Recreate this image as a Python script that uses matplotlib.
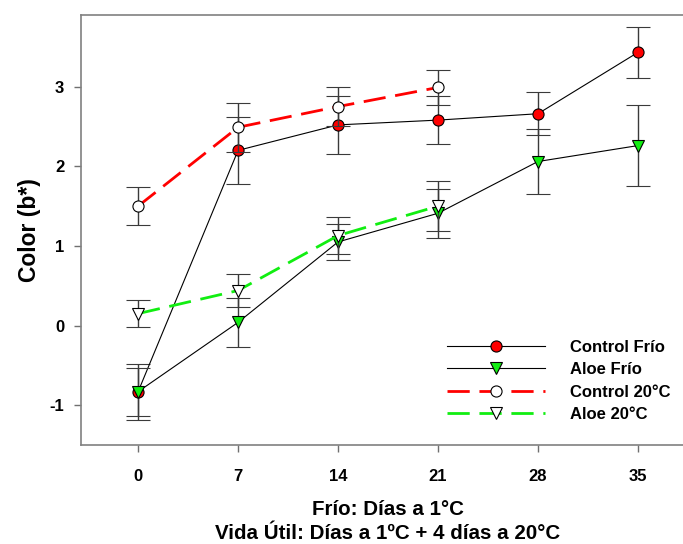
import numpy as np
import matplotlib
matplotlib.use("Agg")
import matplotlib.pyplot as plt
from matplotlib.lines import Line2D

plt.rcParams['font.family'] = ['Liberation Sans', 'DejaVu Sans']

dias = [0, 7, 14, 21, 28, 35]
dias_20 = [0, 7, 14, 21]

control_frio = [-0.83, 2.20, 2.52, 2.58, 2.66, 3.43]
control_frio_err = [0.35, 0.42, 0.36, 0.30, 0.27, 0.32]
aloe_frio = [-0.83, 0.04, 1.05, 1.41, 2.06, 2.26]
aloe_frio_err = [0.30, 0.31, 0.23, 0.31, 0.41, 0.51]
control_20 = [1.50, 2.49, 2.75, 2.99]
control_20_err = [0.24, 0.31, 0.24, 0.22]
aloe_20 = [0.15, 0.44, 1.13, 1.50]
aloe_20_err = [0.165, 0.21, 0.23, 0.31]

x_ticks = [0, 7, 14, 21, 28, 35]
y_ticks = [-1, 0, 1, 2, 3]

W, H = 683, 544
fig = plt.figure(figsize=(W / 100, H / 100), dpi=100)
ax = fig.add_axes([81 / W, 1 - 445 / H, (695 - 81) / W, (445 - 15) / H])

err_kw = dict(ecolor='#3a3a3a', elinewidth=1.0, capsize=8.5, capthick=1.0)
verde = '#11ee11'

series = [
    (dias, control_frio, control_frio_err, 'black', 0.8, None, 'o', '#ff0000', 'Control Frío'),
    (dias, aloe_frio, aloe_frio_err, 'black', 0.8, None, 'v', verde, 'Aloe Frío'),
    (dias_20, control_20, control_20_err, '#ff0000', 2, (8, 3.5), 'o', 'white', 'Control 20°C'),
    (dias_20, aloe_20, aloe_20_err, verde, 2, (8, 3.5), 'v', 'white', 'Aloe 20°C'),
]

handles = []
for i, (x, y, e, col, lw, dash, mk, fc, lab) in enumerate(series):
    ms = 8 if mk == 'o' else 8.5
    style = dict(color=col, lw=lw, marker=mk, ms=ms, mfc=fc, mec='black', mew=0.8)
    if dash:
        style['dashes'] = dash
    ax.errorbar(x, y, yerr=e, zorder=3 + i, **style, **err_kw)
    handles.append(Line2D([], [], label=lab, **style))

ax.set_xlim(-4, 39)
ax.set_ylim(-1.5, 3.9)
ax.set_xticks(x_ticks)
ax.set_yticks(y_ticks)
ax.set_xticklabels([str(t) for t in x_ticks], fontsize=12, fontweight='bold')
ax.set_yticklabels([str(t) for t in y_ticks], fontsize=12, fontweight='bold')
ax.tick_params(direction='out', length=5, width=1, color='#707070')
ax.tick_params(axis='x', pad=12)
ax.tick_params(axis='y', pad=7)
for s in ax.spines.values():
    s.set_color('#808080')
    s.set_linewidth(1.2)

ax.set_xlabel('Frío: Días a 1°C\nVida Útil: Días a 1ºC + 4 días a 20°C',
              fontsize=14.8, fontweight='bold', linespacing=1.3, labelpad=12)
ax.set_ylabel('Color (b*)', fontsize=16.5, fontweight='bold', labelpad=6)

ax.legend(handles=handles, loc='upper left', bbox_to_anchor=(0.596, 0.245),
          frameon=False, prop={'weight': 'bold', 'size': 12},
          handlelength=5.9, handletextpad=1.5, labelspacing=0.45,
          borderpad=0, borderaxespad=0)

fig.savefig('out.png', dpi=100)
